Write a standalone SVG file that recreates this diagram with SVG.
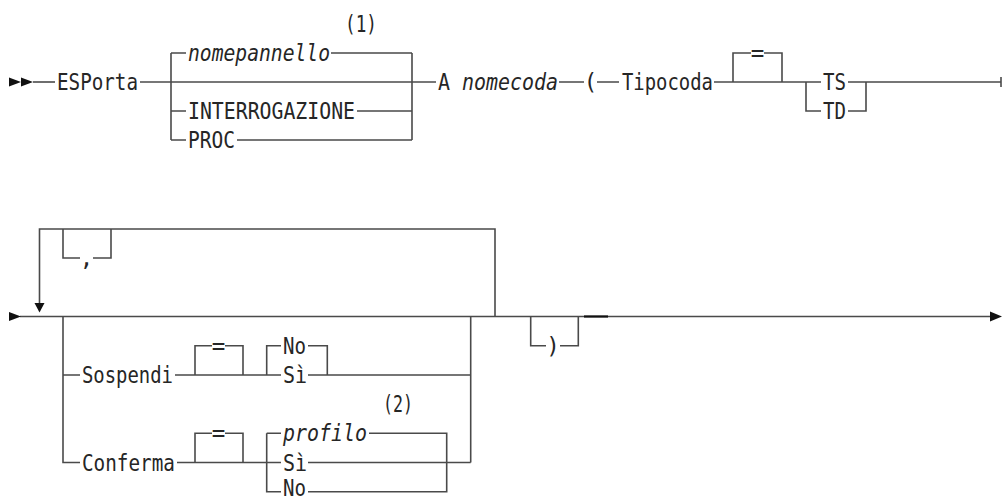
<svg xmlns="http://www.w3.org/2000/svg" width="1002" height="498" viewBox="0 0 1002 498">
  <style>
    .ln { fill: none; stroke: #4a4a4a; stroke-width: 1.6; stroke-linecap: butt; stroke-linejoin: miter; }
    .dash { fill: none; stroke: #111; stroke-width: 2.2; }
    .t { font-family: "DejaVu Sans Mono", "Liberation Mono", monospace; font-size: 22.5px; fill: #262626; }
    .v { font-style: italic; }
    .c { text-anchor: middle; }
    .ah { fill: #111; }
  </style>

  <!-- connectors: rails, branch boxes, loop and end markers -->
  <g id="connectors">
    <!-- first rail, y=82 -->
    <path class="ln" d="M33 82 H55"/>
    <path class="ln" d="M140 82 H436"/>
    <path class="ln" d="M171 53 V140 M412 53 V140"/>
    <path class="ln" d="M171 53 H186 M331 53 H412"/>
    <path class="ln" d="M171 111 H186 M357 111 H412"/>
    <path class="ln" d="M171 140 H186 M237 140 H412"/>
    <path class="ln" d="M559 82 H584 M597 82 H619"/>
    <path class="ln" d="M714 82 H821"/>
    <path class="ln" d="M733 82 V53 H751 M764 53 H782 V82"/>
    <path class="ln" d="M806 82 V111 H821 M848 82 H866 M848 111 H866 V82 H1001"/>
    <path class="ln" d="M1001 77 V87"/>

    <!-- second rail, y=316.5 -->
    <path class="ln" d="M20 316.5 H990"/>
    <path class="dash" d="M584 316.5 H608"/>
    <!-- repeat loop -->
    <path class="ln" d="M39.5 303 V229 H495 V316.5"/>
    <path class="ln" d="M63 229 V258 H80 M93 258 H111 V229"/>
    <!-- optional group -->
    <path class="ln" d="M63 316.5 V462.5 H80 M63 375 H80"/>
    <path class="ln" d="M470.7 316.5 V462.5"/>
    <!-- Sospendi row -->
    <path class="ln" d="M175 375 H281 M308 375 H470.7"/>
    <path class="ln" d="M195 375 V345.7 H212 M225 345.7 H243 V375"/>
    <path class="ln" d="M266.7 375 V345.7 H281 M308 345.7 H327.3 V375"/>
    <!-- Conferma row -->
    <path class="ln" d="M177 462.5 H281 M308 462.5 H470.7"/>
    <path class="ln" d="M195 462.5 V433.3 H212 M225 433.3 H243 V462.5"/>
    <path class="ln" d="M266.7 433.3 V491.7 H281 M266.7 433.3 H281"/>
    <path class="ln" d="M369 433.3 H446.7 V491.7 H308"/>
    <!-- closing parenthesis -->
    <path class="ln" d="M530.7 316.5 V345.7 H546 M560 345.7 H578.3 V316.5"/>

    <!-- arrowheads -->
    <polygon class="ah" points="9,77.5 21,82 9,86.5"/>
    <polygon class="ah" points="21,77.5 33,82 21,86.5"/>
    <polygon class="ah" points="9,312 21,316.5 9,321"/>
    <polygon class="ah" points="34.5,303 44.5,303 39.5,312.5"/>
    <polygon class="ah" points="990,311.5 1002,316.5 990,321.5"/>
  </g>

  <!-- first statement line -->
  <g id="esporta"><text class="t" x="57" y="90" textLength="81" lengthAdjust="spacingAndGlyphs">ESPorta</text></g>
  <g id="note1"><text class="t" x="345" y="31.5" textLength="32" lengthAdjust="spacingAndGlyphs">(1)</text></g>
  <g id="nomepannello"><text class="t v" x="188" y="61" textLength="142" lengthAdjust="spacingAndGlyphs">nomepannello</text></g>
  <g id="interrogazione"><text class="t" x="188" y="119" textLength="167" lengthAdjust="spacingAndGlyphs">INTERROGAZIONE</text></g>
  <g id="proc"><text class="t" x="188" y="148" textLength="47" lengthAdjust="spacingAndGlyphs">PROC</text></g>
  <g id="a-nomecoda">
    <text class="t" x="438" y="90" textLength="12" lengthAdjust="spacingAndGlyphs">A</text>
    <text class="t v" x="462" y="90" textLength="96" lengthAdjust="spacingAndGlyphs">nomecoda</text>
  </g>
  <g id="open-paren"><text class="t c" x="590.5" y="90">(</text></g>
  <g id="tipocoda"><text class="t" x="622" y="90" textLength="91" lengthAdjust="spacingAndGlyphs">Tipocoda</text></g>
  <g id="eq1"><text class="t c" x="757.5" y="61">=</text></g>
  <g id="ts"><text class="t" x="823" y="90" textLength="23" lengthAdjust="spacingAndGlyphs">TS</text></g>
  <g id="td"><text class="t" x="823" y="119" textLength="23" lengthAdjust="spacingAndGlyphs">TD</text></g>

  <!-- second statement line -->
  <g id="comma"><text class="t c" x="86.5" y="266">,</text></g>
  <g id="sospendi"><text class="t" x="82" y="383" textLength="91" lengthAdjust="spacingAndGlyphs">Sospendi</text></g>
  <g id="eq2"><text class="t c" x="218.5" y="353.7">=</text></g>
  <g id="sosp-no"><text class="t" x="283" y="353.7" textLength="23" lengthAdjust="spacingAndGlyphs">No</text></g>
  <g id="sosp-si"><text class="t" x="283" y="383" textLength="24" lengthAdjust="spacingAndGlyphs">Sì</text></g>
  <g id="note2"><text class="t" x="383" y="412" textLength="30" lengthAdjust="spacingAndGlyphs">(2)</text></g>
  <g id="conferma"><text class="t" x="82" y="470.5" textLength="93" lengthAdjust="spacingAndGlyphs">Conferma</text></g>
  <g id="eq3"><text class="t c" x="218.5" y="441.3">=</text></g>
  <g id="profilo"><text class="t v" x="283" y="441.3" textLength="84" lengthAdjust="spacingAndGlyphs">profilo</text></g>
  <g id="conf-si"><text class="t" x="283" y="470.5" textLength="24" lengthAdjust="spacingAndGlyphs">Sì</text></g>
  <g id="conf-no"><text class="t" x="283" y="496" textLength="23" lengthAdjust="spacingAndGlyphs">No</text></g>
  <g id="close-paren"><text class="t c" x="553" y="353.7">)</text></g>
</svg>
